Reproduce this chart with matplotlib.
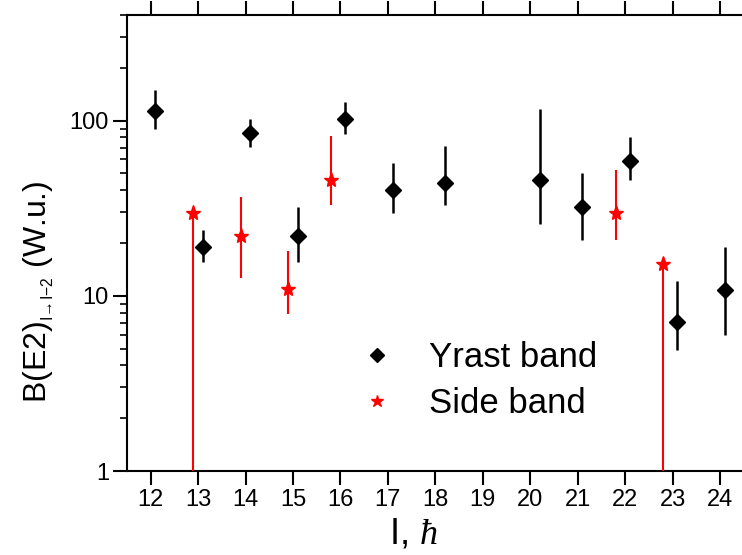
import matplotlib
matplotlib.use('Agg')
import matplotlib.pyplot as plt
from matplotlib.lines import Line2D
import numpy as np

plt.rcParams['font.family'] = ['Liberation Sans', 'DejaVu Sans']
plt.rcParams['mathtext.fontset'] = 'custom'
plt.rcParams['mathtext.rm'] = 'Liberation Sans'
plt.rcParams['mathtext.it'] = 'Liberation Serif:italic'

# Yrast band
yrast_spin = [12.1, 13.1, 14.1, 15.1, 16.1, 17.1, 18.2, 20.2, 21.1, 22.1, 23.1, 24.1]
yrast_be2 = [114, 19, 85, 22, 102, 40, 44, 46, 32, 59, 7.1, 10.8]
yrast_hi = [150, 23.7, 102, 32, 128, 57.5, 72, 116, 50, 81, 12.1, 19]
yrast_lo = [90, 15.6, 71, 15.6, 84, 29.5, 32.8, 25.6, 20.7, 45.5, 4.9, 6.0]

# Side band (two points with lower limit going to zero)
side_spin = [12.9, 13.9, 14.9, 15.8, 21.8, 22.8]
side_be2 = [29.6, 21.8, 11.0, 45.5, 29.6, 15.1]
side_hi = [29.6, 36.6, 17.9, 81.4, 51.9, 15.1]
side_lo = [0.001, 12.7, 7.9, 32.8, 20.7, 0.001]

x_ticks = list(range(12, 25))

fig = plt.figure(figsize=(7.42, 5.55), dpi=100)
ax = fig.add_axes([127 / 742, 84 / 555, 616.7 / 742, 456 / 555])

yv = np.array(yrast_be2)
ax.errorbar(yrast_spin, yv, yerr=[yv - np.array(yrast_lo), np.array(yrast_hi) - yv],
            fmt='D', color='black', ms=8, elinewidth=1.8, capsize=0, zorder=3)
sv = np.array(side_be2)
ax.errorbar(side_spin, sv, yerr=[sv - np.array(side_lo), np.array(side_hi) - sv],
            fmt='*', color='red', ms=11, elinewidth=1.5, capsize=0, zorder=3)

ax.set_yscale('log')
ax.set_ylim(1, 400)
ax.set_xlim(11.5, 24.5)
ax.set_xticks(x_ticks)
ax.set_yticks([1, 10, 100])
ax.set_yticklabels(['1', '10', '100'])

ax.tick_params(axis='both', which='major', direction='out', length=10, width=1.5,
               labelsize=17, pad=3)
ax.tick_params(axis='y', which='minor', direction='out', length=5, width=1.2)
ax.tick_params(axis='x', top=True, labeltop=False)
for s in ax.spines.values():
    s.set_linewidth(1.5)
ax.spines['right'].set_visible(False)

ax.set_xlabel(r'I, $\it{\hbar}$', fontsize=26)
ax.xaxis.set_label_coords(0.465, -0.1)
ax.set_ylabel(r'B(E2)$_{_{\mathregular{I\!\rightarrow\!I{-}2}}}$ (W.u.)', fontsize=23)
ax.yaxis.set_label_coords(-0.115, 0.393)

handles = [Line2D([], [], ls='none', marker='D', color='black', ms=7),
           Line2D([], [], ls='none', marker='*', color='red', ms=9)]
ax.legend(handles, ['Yrast band', 'Side band'], loc='center left',
          bbox_to_anchor=(0.377, 0.198), frameon=False, fontsize=25,
          handlelength=1.0, handletextpad=1.0, labelspacing=0.36,
          borderpad=0, borderaxespad=0)

fig.savefig('out.png', dpi=100)
